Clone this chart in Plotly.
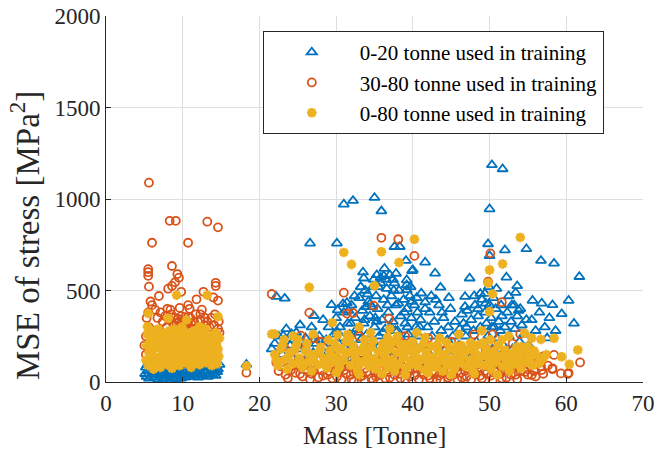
import plotly.graph_objects as go

# ---- data: (mass [tonne], MSE [MPa^2]) ----
# model trained on 0-20 tonne vehicles
tri_light = [
    (5.1, 45), (5.2, 80), (5.3, 30), (5.4, 95), (5.5, 60), (5.6, 20), (5.8, 75), (5.9, 40),
    (6.0, 100), (6.1, 55), (6.3, 25), (6.4, 85), (6.5, 50), (6.7, 70), (6.8, 15), (6.9, 40),
    (7.0, 90), (7.2, 60), (7.3, 30), (7.4, 10), (7.5, 75), (7.7, 45), (7.8, 20), (7.9, 95),
    (8.0, 55), (8.2, 35), (8.3, 80), (8.4, 10), (8.6, 60), (8.7, 25), (8.8, 90), (9.0, 45),
    (9.1, 15), (9.2, 70), (9.4, 35), (9.5, 85), (9.6, 55), (9.8, 20), (9.9, 100), (10.0, 40),
    (10.2, 65), (10.3, 25), (10.5, 80), (10.6, 50), (10.8, 30), (10.9, 95), (11.0, 60),
    (11.2, 40), (11.3, 75), (11.5, 30), (11.6, 55), (11.8, 90), (11.9, 45), (12.0, 25),
    (12.2, 70), (12.3, 50), (12.5, 105), (12.6, 35), (12.8, 65), (12.9, 85), (13.0, 45),
    (13.2, 60), (13.3, 30), (13.5, 95), (13.6, 50), (13.8, 75), (13.9, 40), (14.0, 110),
    (14.1, 60), (14.3, 35), (14.4, 80), (14.5, 55), (14.6, 70), (14.8, 95), (18.3, 96),
]
tri_heavy = [
    (40.0, 1400), (50.3, 1186), (51.7, 1164), (31.0, 971), (32.2, 991), (35.0, 1007),
    (35.9, 934), (50.0, 945), (26.6, 758), (30.1, 758), (37.6, 739), (38.3, 739),
    (39.1, 663), (41.6, 654), (33.5, 600), (33.6, 567), (35.3, 585), (36.2, 580), (35.8, 570),
    (39.9, 608), (42.9, 594), (39.2, 557), (39.2, 530), (39.2, 503), (49.8, 754), (52.0, 721),
    (54.8, 727), (50.0, 690), (56.7, 663), (58.4, 648), (61.7, 575), (47.4, 567), (52.2, 572),
    (53.6, 525), (43.6, 517), (41.1, 485), (41.6, 436), (23.3, 457), (22.2, 466), (27.1, 362),
    (29.4, 421), (31.4, 433), (34.4, 426), (30.2, 393), (30.9, 427), (46.8, 466), (46.8, 412),
    (48.8, 483), (49.4, 483), (53.4, 488), (55.6, 445), (58.2, 421), (60.3, 445), (59.4, 372),
    (55.5, 339), (21.6, 180), (37.0, 585), (37.8, 593), (37.4, 560),
    (23.1, 253), (24.2, 262), (25.3, 311), (27.2, 230), (27.8, 250), (28.5, 190),
    (22.5, 250), (23.0, 150), (23.5, 290), (24.0, 200), (24.3, 130), (24.8, 270), (25.5, 180),
    (26.0, 240), (26.3, 140), (26.8, 300), (27.4, 210), (28.0, 160), (28.3, 340), (28.7, 230),
    (29.0, 300), (29.3, 180), (29.7, 260), (30.0, 350), (30.3, 210), (22.0, 210), (24.5, 230),
    (25.9, 200), (27.0, 160),
    (30.5, 300), (30.8, 240), (31.0, 380), (31.2, 180), (31.5, 320), (31.8, 260), (32.0, 420),
    (32.2, 200), (32.5, 350), (32.7, 290), (33.0, 460), (33.2, 230), (33.4, 390), (33.6, 320),
    (33.8, 500), (34.0, 260), (34.2, 440), (34.4, 360), (34.6, 200), (34.8, 520), (35.0, 300),
    (35.2, 470), (35.4, 400), (35.6, 250), (35.8, 540), (36.0, 340), (36.2, 450), (36.4, 290),
    (36.6, 510), (36.8, 380), (37.0, 220), (37.2, 470), (37.4, 330), (37.6, 540), (37.8, 420),
    (38.0, 280), (38.2, 500), (38.4, 360), (38.6, 230), (38.8, 450), (39.0, 320), (39.2, 400),
    (39.4, 260), (39.6, 470), (39.8, 350), (40.0, 210), (40.2, 420), (40.4, 300), (40.6, 380),
    (40.8, 250), (41.0, 340), (41.3, 200), (41.6, 400), (33.0, 150), (34.5, 130), (36.0, 160),
    (37.5, 150), (38.5, 170), (39.5, 140), (35.5, 190), (32.0, 130), (36.7, 420), (34.9, 560),
    (36.3, 620), (33.9, 410), (35.1, 350), (37.1, 300), (39.9, 440), (40.0, 612),
    (30.2, 270), (31.6, 390), (32.4, 470), (33.2, 520), (34.1, 480), (34.7, 410), (35.5, 520),
    (36.5, 560), (37.5, 500), (38.1, 430), (38.9, 380), (39.7, 520), (40.5, 460), (31.9, 320),
    (32.9, 270), (33.7, 340), (35.3, 330), (36.1, 270), (37.7, 280), (39.3, 300), (40.9, 300),
    (41.9, 300), (42.2, 380), (42.5, 250), (42.8, 330), (43.1, 200), (43.4, 420), (43.7, 280),
    (44.0, 350), (44.3, 180), (44.6, 300), (44.9, 400), (45.2, 250), (45.5, 330), (45.8, 150),
    (46.1, 290), (46.4, 370), (42.0, 160), (43.0, 450), (44.5, 230), (45.0, 140), (46.0, 200),
    (42.4, 470), (43.8, 380), (44.7, 460),
    (46.6, 320), (46.9, 250), (47.1, 390), (47.3, 180), (47.6, 340), (47.9, 280), (48.1, 420),
    (48.3, 220), (48.5, 360), (48.8, 300), (49.0, 450), (49.2, 200), (49.4, 380), (49.6, 320),
    (49.8, 250), (50.0, 420), (50.2, 350), (50.4, 180), (50.6, 300), (50.8, 400), (51.0, 240),
    (51.2, 330), (51.4, 280), (51.6, 360), (51.8, 200), (52.0, 300), (52.3, 380), (52.5, 250),
    (52.8, 330), (53.0, 180), (53.3, 290), (53.6, 360), (53.9, 220), (54.2, 310), (54.5, 260),
    (54.8, 340), (55.1, 200), (47.8, 150), (49.5, 130), (51.5, 150), (52.9, 420), (53.8, 390),
    (48.0, 470), (50.5, 460), (49.9, 520), (50.9, 510), (47.0, 300), (48.5, 400), (49.5, 430),
    (50.3, 300), (51.5, 420), (52.5, 470), (53.2, 420), (54.0, 400),
    (56.0, 280), (56.5, 380), (57.2, 300), (57.8, 350), (58.6, 280), (61.0, 320), (56.8, 430),
    (57.5, 240),
]

# model trained on 30-80 tonne vehicles
circ_light = [
    (5.6, 1089), (8.3, 881), (9.1, 881), (13.2, 876), (14.6, 845), (6.0, 761), (10.7, 761),
    (5.5, 617), (5.5, 600), (5.5, 580), (5.6, 521), (8.6, 634), (9.3, 590), (9.5, 570),
    (9.0, 545), (8.6, 525), (8.1, 510), (9.8, 493), (14.3, 542), (14.3, 525), (12.7, 493),
    (6.9, 470), (11.8, 452), (14.0, 462), (14.6, 445), (5.8, 440), (6.0, 420), (10.7, 420),
    (10.9, 400), (8.0, 400), (8.4, 395), (9.6, 405), (12.5, 395), (12.3, 370), (5.5, 380),
    (5.3, 350), (14.2, 370), (14.7, 330), (12.8, 310), (13.5, 300), (14.6, 290), (13.3, 226),
    (6.4, 395), (6.7, 350), (7.1, 380), (7.4, 330), (7.7, 360), (7.9, 300), (8.2, 340),
    (8.5, 370), (8.8, 310), (9.0, 350), (9.3, 280), (9.5, 330), (9.8, 360), (10.0, 300),
    (10.2, 340), (10.5, 270), (10.7, 320), (11.0, 350), (11.2, 290), (11.5, 330), (11.7, 370),
    (12.0, 300), (12.3, 340), (12.6, 280), (12.9, 350), (13.2, 330), (13.7, 350), (14.1, 310),
    (14.5, 250), (14.8, 270), (5.9, 250), (5.6, 300), (6.2, 280), (7.0, 260), (7.6, 230),
    (8.3, 260), (9.1, 240), (9.9, 220), (10.4, 250), (11.3, 230), (12.1, 250), (13.0, 230),
    (13.9, 220), (6.5, 200), (8.0, 190), (9.6, 180), (11.0, 200), (12.4, 190), (13.6, 170),
    (14.3, 160), (5.2, 250), (5.2, 150), (5.0, 200), (9.2, 320), (9.6, 300), (10.1, 330),
    (10.4, 310), (9.4, 345), (10.8, 290), (8.9, 290), (9.9, 270), (10.3, 355), (11.1, 320),
    (18.3, 51),
]
circ_heavy = [
    (21.6, 481), (26.5, 379), (31.0, 488), (35.9, 788), (38.1, 780), (40.2, 689), (50.1, 703),
    (49.8, 548), (51.6, 436), (31.4, 374), (32.2, 377), (34.9, 417), (36.9, 346), (25.4, 253),
    (27.2, 239), (29.4, 202), (31.3, 184), (34.3, 230), (37.9, 224), (37.6, 171), (50.4, 260),
    (50.2, 215), (54.0, 262), (54.8, 124), (58.4, 148), (56.7, 87), (58.2, 75), (59.3, 47),
    (60.2, 44), (55.0, 40), (55.5, 38), (23.2, 193), (22.2, 107), (61.8, 107), (58.2, 70),
    (60.3, 50), (54.8, 120),
    (22.5, 60), (23.0, 110), (23.4, 40), (23.9, 80), (24.3, 130), (24.7, 50), (25.1, 95),
    (25.6, 30), (26.0, 70), (26.4, 120), (26.8, 45), (27.3, 90), (27.7, 25), (28.1, 65),
    (28.5, 110), (28.9, 40), (29.3, 80), (29.7, 140), (30.1, 30), (30.5, 70), (30.9, 105),
    (31.3, 45), (31.7, 85), (32.0, 15), (32.3, 5), (32.6, 60), (33.0, 100), (33.4, 35),
    (33.8, 75), (34.2, 120), (34.6, 20), (35.0, 60), (35.4, 95), (35.8, 40), (36.2, 80),
    (36.6, 130), (37.0, 25), (37.4, 65), (37.8, 100), (38.2, 45), (38.6, 85), (39.0, 15),
    (39.4, 55), (39.8, 115), (40.2, 35), (40.6, 75), (41.0, 110), (41.4, 40), (41.8, 80),
    (42.2, 20), (42.6, 60), (43.0, 100), (43.4, 35), (43.8, 70), (44.2, 130), (44.6, 25),
    (45.0, 60), (45.4, 95), (45.8, 15), (46.2, 50), (46.6, 85), (47.0, 30), (47.4, 70),
    (47.8, 110), (48.2, 40), (48.6, 80), (49.0, 20), (49.4, 60), (49.8, 100), (50.2, 35),
    (50.6, 75), (51.0, 120), (51.4, 45), (51.8, 85), (52.2, 25), (52.6, 65), (53.0, 105),
    (53.4, 40), (53.8, 80), (54.2, 150), (54.6, 55), (55.2, 95), (55.8, 60), (56.3, 110),
    (57.0, 45), (57.6, 90), (32.5, 140), (34.0, 160), (36.0, 150), (38.5, 140), (41.2, 160),
    (44.0, 170), (47.0, 150), (49.5, 170), (52.0, 160), (31.0, 110), (29.0, 60), (33.7, 10),
    (43.1, 15), (45.3, 40), (26.0, 180), (28.0, 220), (33.0, 250), (39.0, 250), (42.0, 240),
    (45.0, 220), (48.0, 260), (53.0, 210), (55.0, 180), (57.0, 140),
    (22.8, 85), (23.7, 20), (24.1, 65), (24.9, 110), (25.3, 45), (25.9, 90), (26.6, 15),
    (27.0, 60), (27.5, 120), (28.3, 35), (28.7, 95), (29.5, 20), (29.9, 60), (30.3, 100),
    (30.7, 15), (31.1, 65), (31.5, 125), (31.9, 40), (32.8, 90), (33.2, 30), (33.6, 120),
    (34.0, 55), (34.4, 95), (34.8, 10), (35.2, 30), (35.6, 75), (36.0, 110), (36.4, 20),
    (36.8, 55), (37.2, 95), (37.6, 40), (38.0, 120), (38.4, 20), (38.8, 60), (39.2, 100),
    (39.6, 30), (40.0, 70), (40.4, 110), (40.8, 15), (41.2, 55), (41.6, 95), (42.0, 35),
    (42.4, 120), (42.8, 45), (43.2, 85), (43.6, 10), (44.0, 55), (44.4, 95), (44.8, 35),
    (45.6, 75), (46.0, 120), (46.4, 25), (46.8, 60), (47.2, 100), (47.6, 15), (48.0, 55),
    (48.4, 95), (48.8, 35), (49.2, 120), (49.6, 45), (50.0, 85), (50.4, 10), (50.8, 55),
    (51.2, 95), (51.6, 20), (52.0, 65), (52.4, 110), (52.8, 40), (53.2, 80), (53.6, 15),
    (54.0, 60), (54.4, 100), (55.0, 70), (56.0, 30), (56.8, 65),
]

# model trained on 0-80 tonne vehicles
star_light = [
    (9.2, 475), (13.2, 475), (5.5, 375), (14.6, 357), (8.1, 348), (10.5, 340), (12.2, 302),
    (5.4, 302),
    (5.2, 120), (5.3, 200), (5.4, 260), (5.5, 90), (5.6, 160), (5.8, 230), (5.9, 110),
    (6.0, 280), (6.1, 180), (6.2, 70), (6.3, 140), (6.5, 240), (6.6, 100), (6.7, 190),
    (6.8, 290), (6.9, 130), (7.0, 220), (7.1, 80), (7.3, 170), (7.4, 260), (7.5, 115),
    (7.6, 200), (7.8, 150), (7.9, 270), (8.0, 95), (8.1, 220), (8.2, 180), (8.4, 130),
    (8.5, 250), (8.6, 75), (8.7, 200), (8.8, 160), (8.9, 290), (9.0, 110), (9.1, 230),
    (9.3, 180), (9.4, 140), (9.5, 260), (9.6, 90), (9.7, 210), (9.8, 170), (9.9, 300),
    (10.0, 120), (10.1, 240), (10.2, 190), (10.4, 150), (10.5, 270), (10.6, 100), (10.7, 220),
    (10.8, 180), (10.9, 130), (11.0, 260), (11.1, 80), (11.2, 200), (11.4, 160), (11.5, 280),
    (11.6, 115), (11.7, 230), (11.8, 190), (12.0, 140), (12.1, 250), (12.2, 95), (12.3, 210),
    (12.4, 170), (12.6, 125), (12.7, 260), (12.8, 200), (12.9, 150), (13.0, 290), (13.1, 105),
    (13.3, 230), (13.4, 180), (13.5, 135), (13.7, 250), (13.8, 90), (13.9, 200), (14.0, 160),
    (14.2, 120), (14.3, 270), (14.4, 210), (14.5, 100), (14.6, 180), (14.7, 140), (14.8, 240),
    (6.4, 210), (7.2, 240), (8.3, 280), (9.2, 200), (10.3, 210), (11.3, 240), (12.5, 230),
    (13.6, 210), (14.1, 230), (5.7, 200), (7.7, 180), (9.6, 230), (11.9, 170), (13.2, 170),
    (18.3, 88),
]
star_heavy = [
    (26.5, 517), (31.0, 708), (32.0, 643), (35.0, 526), (35.9, 712), (38.2, 653), (40.2, 780),
    (54.0, 790), (51.7, 645), (49.8, 541), (50.0, 612), (50.4, 481), (50.0, 384), (29.5, 324),
    (30.2, 257), (54.6, 266), (56.7, 233), (58.4, 239), (59.4, 138), (60.4, 97), (61.5, 175),
    (36.7, 244), (37.7, 222), (41.6, 244), (47.5, 215), (50.1, 230), (53.5, 160), (23.2, 230),
    (24.4, 251), (26.4, 157), (21.6, 262), (22.0, 262), (54.1, 193),
    (22.0, 150), (22.4, 90), (22.8, 180), (23.2, 120), (23.6, 70), (24.0, 160), (24.4, 100),
    (24.8, 200), (25.2, 130), (25.6, 80), (26.0, 170), (26.4, 110), (26.8, 60), (27.2, 150),
    (27.6, 95), (28.0, 190), (28.4, 130), (28.8, 75), (29.2, 170), (29.5, 110), (29.8, 210),
    (30.1, 140), (30.4, 80), (30.7, 180), (31.0, 120), (31.3, 220), (31.6, 160), (31.9, 90),
    (32.2, 200), (32.5, 130), (32.8, 60), (33.1, 170), (33.4, 110), (33.7, 230), (34.0, 150),
    (34.3, 85), (34.6, 190), (34.9, 125), (35.2, 70), (35.5, 165), (35.8, 105), (36.1, 210),
    (36.4, 140), (36.7, 80), (37.0, 180), (37.3, 120), (37.6, 60), (37.9, 160), (38.2, 100),
    (38.5, 200), (38.8, 135), (39.1, 75), (39.4, 170), (39.7, 115), (40.0, 220), (40.3, 150),
    (40.6, 90), (40.9, 185), (41.2, 125), (41.5, 65), (41.8, 160), (42.1, 100), (42.4, 195),
    (42.7, 135), (43.0, 80), (43.3, 170), (43.6, 115), (43.9, 60), (44.2, 150), (44.5, 95),
    (44.8, 180), (45.1, 125), (45.4, 70), (45.7, 160), (46.0, 105), (46.3, 200), (46.6, 140),
    (46.9, 85), (47.2, 175), (47.5, 120), (47.8, 65), (48.1, 160), (48.4, 100), (48.7, 205),
    (49.0, 145), (49.3, 90), (49.6, 180), (49.9, 125), (50.2, 70), (50.5, 165), (50.8, 110),
    (51.1, 200), (51.4, 140), (51.7, 85), (52.0, 175), (52.3, 120), (52.6, 60), (52.9, 155),
    (53.2, 100), (53.5, 190), (53.8, 130), (54.1, 75), (54.4, 160), (54.7, 110), (55.0, 195),
    (55.3, 140), (55.6, 90), (56.0, 150), (56.4, 100), (57.0, 130), (30.0, 50), (33.0, 40),
    (36.0, 45), (39.0, 40), (42.0, 50), (45.0, 40), (48.0, 45), (51.0, 40), (31.5, 260),
    (34.5, 270), (38.0, 250), (40.5, 270), (43.5, 240), (46.0, 260), (49.0, 280), (52.5, 250),
    (33.0, 300), (37.0, 290), (27.0, 260), (25.0, 230), (55.5, 240),
    (22.2, 120), (23.0, 200), (23.8, 140), (24.6, 175), (25.4, 105), (26.2, 210), (27.0, 125),
    (27.8, 165), (28.6, 100), (29.0, 230), (29.4, 140), (30.0, 190), (30.6, 110), (31.2, 160),
    (31.8, 240), (32.4, 170), (33.0, 95), (33.6, 190), (34.2, 130), (34.8, 225), (35.4, 110),
    (36.0, 185), (36.6, 120), (37.2, 215), (37.8, 90), (38.4, 160), (39.0, 205), (39.6, 95),
    (40.2, 180), (40.8, 120), (41.4, 210), (42.0, 140), (42.6, 90), (43.2, 200), (43.8, 130),
    (44.4, 215), (45.0, 105), (45.6, 195), (46.2, 120), (46.8, 170), (47.4, 95), (48.0, 200),
    (48.6, 130), (49.2, 215), (49.8, 160), (50.4, 100), (51.0, 140), (51.6, 230), (52.2, 150),
    (52.8, 95), (53.4, 135), (54.0, 115), (54.6, 180), (55.2, 120), (55.8, 170), (56.6, 110),
    (57.4, 150),
]

series_names = [
    "0-20 tonne used in training",
    "30-80 tonne used in training",
    "0-80 tonne used in training",
]
series_colors = ["#0072BD", "#D95319", "#EDB120"]

FONT = "Liberation Serif"
INK = "#262626"


def split(points):
    return [p[0] for p in points], [p[1] for p in points]


fig = go.Figure()

groups = [tri_light + tri_heavy, circ_light + circ_heavy, star_light + star_heavy]
symbols = ["triangle-up-open", "circle-open", "asterisk-open"]
sizes = [9, 8, 8]
widths = [1.8, 1.8, 2.8]

for pts, name, color, sym, sz, lw in zip(groups, series_names, series_colors, symbols, sizes, widths):
    mass, mse = split(pts)
    fig.add_trace(go.Scatter(
        x=mass, y=mse, mode="markers", name=name,
        marker=dict(symbol=sym, size=sz, color=color, line=dict(color=color, width=lw)),
    ))

axis_common = dict(
    showgrid=True, gridcolor="#dedede", gridwidth=1,
    showline=True, linecolor=INK, linewidth=1,
    ticks="inside", ticklen=5, tickcolor=INK, tickwidth=1,
    zeroline=False, mirror=False, automargin=False,
    tickfont=dict(family=FONT, size=23, color=INK),
)

fig.update_layout(
    width=658, height=453,
    margin=dict(l=106, r=15, t=16, b=71, autoexpand=False),
    paper_bgcolor="white", plot_bgcolor="white",
    font=dict(family=FONT, color=INK),
    xaxis=dict(range=[0, 70], dtick=10, **axis_common),
    yaxis=dict(range=[0, 2000], dtick=500, **axis_common),
    showlegend=True,
    legend=dict(
        x=0.292, y=0.959, xanchor="left", yanchor="top",
        bgcolor="white", bordercolor=INK, borderwidth=1,
        font=dict(family=FONT, size=21, color="#000000"),
        itemwidth=86, tracegroupgap=0,
    ),
    annotations=[
        dict(text="Mass [Tonne]", xref="paper", yref="paper",
             x=0.5, y=-0.1475, xanchor="center", yanchor="middle", showarrow=False,
             font=dict(family=FONT, size=26, color=INK)),
        dict(text="MSE of stress [MPa<sup>2</sup>]", xref="paper", yref="paper",
             x=-0.152, y=0.40, xanchor="center", yanchor="middle", showarrow=False,
             textangle=-90, font=dict(family=FONT, size=33, color=INK)),
    ],
)

fig.write_html("out.html")
